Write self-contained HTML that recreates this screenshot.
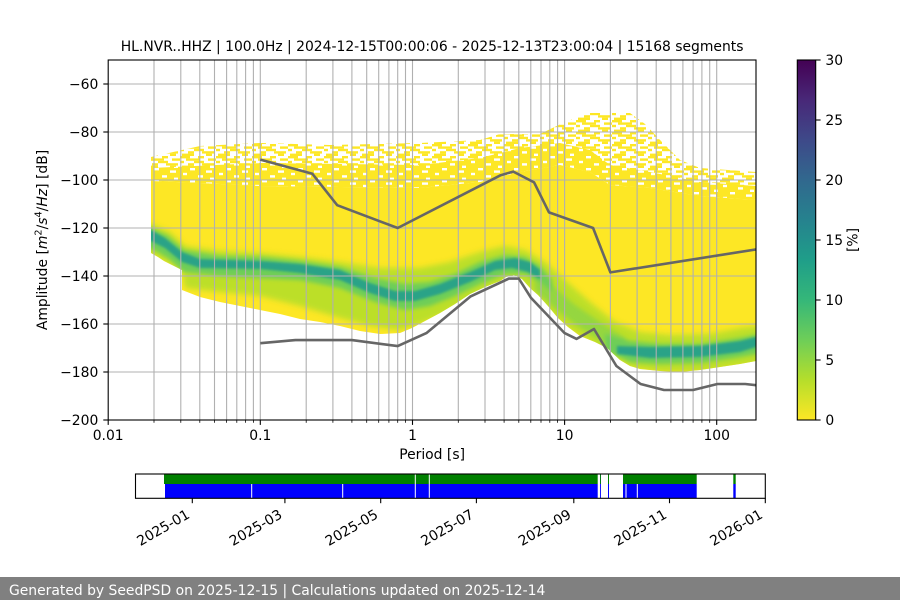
<!DOCTYPE html>
<html><head><meta charset="utf-8"><style>
html,body{margin:0;padding:0;background:#fff;}
svg{display:block;}
</style></head><body>
<svg width="900" height="600" viewBox="0 0 900 600" font-family="'DejaVu Sans','Liberation Sans',sans-serif" font-size="13.9">
<defs>
<clipPath id="ax"><rect x="108.2" y="60" width="647.8" height="360"/></clipPath>
<clipPath id="env"><polygon points="151,181 200,183 260,186 420,188 480,182 520,172 560,165 590,172 610,185 650,188 700,196 756,200 756,361 740,364 720,367 700,370 680,372 660,371 640,369 630,366 620,360 607,348 595,342 580,336 568,327 558,318 548,306 538,295 530,288 522,279 514,275 506,277 500,281 485,287 470,294 455,304 440,313 425,321 412,328 400,333 380,334 360,331 340,326 320,322 300,319 280,314 260,310 240,306 220,302 200,297 182,290 182,270 176,267 170,264 164,261 158,257 151,253"/></clipPath>
<pattern id="sp1" patternUnits="userSpaceOnUse" width="36" height="12">
<rect width="36" height="12" fill="#fde725"/>
<rect x="10" y="0" width="5" height="2.4" fill="#fff"/>
<rect x="26" y="2.4" width="6" height="2.4" fill="#fff"/>
<rect x="3" y="4.8" width="4" height="2.4" fill="#fff"/>
<rect x="18" y="7.2" width="5" height="2.4" fill="#fff"/>
<rect x="30" y="9.6" width="4" height="2.4" fill="#fff"/>
</pattern>
<pattern id="sp2" patternUnits="userSpaceOnUse" width="36" height="12">
<rect x="0" y="0" width="10" height="2.4" fill="#fde725"/>
<rect x="18" y="0" width="6" height="2.4" fill="#fde725"/>
<rect x="6" y="2.4" width="14" height="2.4" fill="#fde725"/>
<rect x="28" y="2.4" width="8" height="2.4" fill="#fde725"/>
<rect x="0" y="4.8" width="4" height="2.4" fill="#fde725"/>
<rect x="14" y="4.8" width="10" height="2.4" fill="#fde725"/>
<rect x="8" y="7.2" width="6" height="2.4" fill="#fde725"/>
<rect x="22" y="7.2" width="12" height="2.4" fill="#fde725"/>
<rect x="2" y="9.6" width="12" height="2.4" fill="#fde725"/>
<rect x="26" y="9.6" width="6" height="2.4" fill="#fde725"/>
</pattern>
<filter id="b1" x="-10%" y="-50%" width="120%" height="200%"><feGaussianBlur stdDeviation="1.2"/></filter>
<filter id="b2" x="-10%" y="-50%" width="120%" height="200%"><feGaussianBlur stdDeviation="2"/></filter>
<filter id="b3" x="-10%" y="-50%" width="120%" height="200%"><feGaussianBlur stdDeviation="3"/></filter>
<linearGradient id="cb" x1="0" y1="1" x2="0" y2="0">
<stop offset="0" stop-color="#fde725"/>
<stop offset="0.111" stop-color="#b5de2b"/>
<stop offset="0.222" stop-color="#6ece58"/>
<stop offset="0.333" stop-color="#35b779"/>
<stop offset="0.444" stop-color="#1f9e89"/>
<stop offset="0.556" stop-color="#26828e"/>
<stop offset="0.667" stop-color="#31688e"/>
<stop offset="0.778" stop-color="#3e4989"/>
<stop offset="0.889" stop-color="#482878"/>
<stop offset="1" stop-color="#440154"/>
</linearGradient>
</defs>

<rect width="900" height="600" fill="#fff"/>

<!-- Title -->
<text x="432.1" y="51" text-anchor="middle">HL.NVR..HHZ | 100.0Hz | 2024-12-15T00:00:06 - 2025-12-13T23:00:04 | 15168 segments</text>

<g clip-path="url(#ax)">
  <!-- speckled upper region -->
  <polygon fill="url(#sp2)" points="151,157 200,146 260,143 330,145 420,143 480,140 500,134 540,134 565,122 590,113 630,113 645,124 660,140 680,160 700,168 756,172 756,200 700,196 650,188 610,185 590,172 560,165 520,172 480,182 420,188 260,186 200,183 151,181"/>
  <polygon fill="url(#sp1)" points="151,168 260,163 420,165 480,158 520,148 560,143 590,150 610,165 650,172 700,182 756,186 756,200 700,196 650,188 610,185 590,172 560,165 520,172 480,182 420,188 260,186 200,183 151,181"/>
  <!-- solid yellow -->
  <polygon fill="#fde725" points="151,181 200,183 260,186 420,188 480,182 520,172 560,165 590,172 610,185 650,188 700,196 756,200 756,361 740,364 720,367 700,370 680,372 660,371 640,369 630,366 620,360 607,348 595,342 580,336 568,327 558,318 548,306 538,295 530,288 522,279 514,275 506,277 500,281 485,287 470,294 455,304 440,313 425,321 412,328 400,333 380,334 360,331 340,326 320,322 300,319 280,314 260,310 240,306 220,302 200,297 182,290 182,270 176,267 170,264 164,261 158,257 151,253"/>
  <g clip-path="url(#env)">
    <!-- halo -->
    <polygon filter="url(#b3)" fill="#b5de2b" opacity="0.9" points="151,224 170,232 185,246 220,251 260,253 300,257 340,262 380,268 420,268 450,262 480,252 505,246 525,250 545,262 565,280 590,302 615,322 640,332 670,335 710,334 740,328 756,326 760,326 760,364 756,364 740,366 700,372 660,372 630,368 610,356 590,342 570,330 555,318 540,302 525,286 510,280 490,288 470,300 440,316 420,324 400,330 370,326 340,318 300,306 260,296 220,292 185,288 182,272 170,264 151,254 146,254 146,224"/>
    <!-- mid -->
    <polygon filter="url(#b2)" fill="#6ece58" points="146,228 151,228 168,236 184,250 220,256 260,257 300,261 340,267 375,278 405,284 430,282 455,274 480,262 505,255 525,257 540,266 552,280 552,292 540,282 525,274 505,274 480,284 455,296 430,306 405,310 375,302 340,288 300,280 260,278 220,276 184,272 168,258 151,248 146,248"/>
    <polygon filter="url(#b2)" fill="#6ece58" opacity="0.5" points="535,272 555,288 575,305 600,322 625,338 625,356 600,340 575,324 555,308 535,290"/>
    <polygon filter="url(#b2)" fill="#6ece58" points="605,334 630,341 660,344 700,344 740,338 756,335 760,335 760,354 756,354 740,357 700,363 660,364 630,362 605,350"/>
    <!-- core -->
    <polygon filter="url(#b1)" fill="#29a387" points="146,230 151,230 165,238 182,252 200,259 260,261 300,264 340,270 370,283 395,291 415,291 440,284 470,272 495,261 515,258 530,262 540,270 540,279 528,272 512,268 495,270 470,282 440,294 415,301 395,301 370,293 340,280 300,273 260,269 200,268 182,262 165,248 151,241 146,241"/>
    <polygon filter="url(#b1)" fill="#29a387" points="617,346 650,347 700,346 740,341 756,337 760,337 760,347 756,347 740,352 700,357 650,358 617,354"/>
  </g>
  <!-- grid -->
  <g stroke="#b0b0b0" stroke-width="1.1">
    <line x1="154.0" y1="60" x2="154.0" y2="420"/>
    <line x1="180.8" y1="60" x2="180.8" y2="420"/>
    <line x1="199.8" y1="60" x2="199.8" y2="420"/>
    <line x1="214.5" y1="60" x2="214.5" y2="420"/>
    <line x1="226.6" y1="60" x2="226.6" y2="420"/>
    <line x1="236.8" y1="60" x2="236.8" y2="420"/>
    <line x1="245.6" y1="60" x2="245.6" y2="420"/>
    <line x1="253.4" y1="60" x2="253.4" y2="420"/>
    <line x1="260.3" y1="60" x2="260.3" y2="420"/>
    <line x1="306.2" y1="60" x2="306.2" y2="420"/>
    <line x1="332.9" y1="60" x2="332.9" y2="420"/>
    <line x1="351.9" y1="60" x2="351.9" y2="420"/>
    <line x1="366.7" y1="60" x2="366.7" y2="420"/>
    <line x1="378.7" y1="60" x2="378.7" y2="420"/>
    <line x1="388.9" y1="60" x2="388.9" y2="420"/>
    <line x1="397.7" y1="60" x2="397.7" y2="420"/>
    <line x1="405.5" y1="60" x2="405.5" y2="420"/>
    <line x1="412.5" y1="60" x2="412.5" y2="420"/>
    <line x1="458.3" y1="60" x2="458.3" y2="420"/>
    <line x1="485.0" y1="60" x2="485.0" y2="420"/>
    <line x1="504.1" y1="60" x2="504.1" y2="420"/>
    <line x1="518.8" y1="60" x2="518.8" y2="420"/>
    <line x1="530.8" y1="60" x2="530.8" y2="420"/>
    <line x1="541.0" y1="60" x2="541.0" y2="420"/>
    <line x1="549.8" y1="60" x2="549.8" y2="420"/>
    <line x1="557.6" y1="60" x2="557.6" y2="420"/>
    <line x1="564.6" y1="60" x2="564.6" y2="420"/>
    <line x1="610.4" y1="60" x2="610.4" y2="420"/>
    <line x1="637.1" y1="60" x2="637.1" y2="420"/>
    <line x1="656.2" y1="60" x2="656.2" y2="420"/>
    <line x1="670.9" y1="60" x2="670.9" y2="420"/>
    <line x1="682.9" y1="60" x2="682.9" y2="420"/>
    <line x1="693.1" y1="60" x2="693.1" y2="420"/>
    <line x1="701.9" y1="60" x2="701.9" y2="420"/>
    <line x1="709.7" y1="60" x2="709.7" y2="420"/>
    <line x1="716.7" y1="60" x2="716.7" y2="420"/>
    <line x1="108" y1="84" x2="756" y2="84"/>
    <line x1="108" y1="132" x2="756" y2="132"/>
    <line x1="108" y1="180" x2="756" y2="180"/>
    <line x1="108" y1="228" x2="756" y2="228"/>
    <line x1="108" y1="276" x2="756" y2="276"/>
    <line x1="108" y1="324" x2="756" y2="324"/>
    <line x1="108" y1="372" x2="756" y2="372"/>
  </g>
  <!-- noise models -->
  <polyline fill="none" stroke="#666" stroke-width="2.6" stroke-linejoin="round" stroke-linecap="butt" points="260.3,159.6 312.4,173.8 337.2,205.2 397.7,228 500.7,175.2 513.3,171.6 534.1,182.4 549.0,212.4 593.1,228 610.4,272.4 760,248.8"/>
  <polyline fill="none" stroke="#666" stroke-width="2.6" stroke-linejoin="round" stroke-linecap="butt" points="260.3,343.2 295.4,340.1 351.9,340.1 397.7,346.1 426.7,332.9 470.3,296.6 508.8,278.6 518.8,278.6 530.8,297.6 564.6,333.1 576.6,338.9 594.0,329.0 616.4,366 640.6,384 664.0,390 693.1,390 717.4,384 745.2,384 760,385.6"/>
</g>

<!-- axes frame -->
<rect x="108.2" y="60" width="647.8" height="360" fill="none" stroke="#000" stroke-width="1.1"/>

<!-- y ticks -->
<g stroke="#000" stroke-width="1.1">
  <line x1="103.3" y1="84" x2="108.2" y2="84"/>
  <line x1="103.3" y1="132" x2="108.2" y2="132"/>
  <line x1="103.3" y1="180" x2="108.2" y2="180"/>
  <line x1="103.3" y1="228" x2="108.2" y2="228"/>
  <line x1="103.3" y1="276" x2="108.2" y2="276"/>
  <line x1="103.3" y1="324" x2="108.2" y2="324"/>
  <line x1="103.3" y1="372" x2="108.2" y2="372"/>
  <line x1="103.3" y1="420" x2="108.2" y2="420"/>
  <!-- x major -->
  <line x1="108.2" y1="420" x2="108.2" y2="424.9"/>
  <line x1="260.3" y1="420" x2="260.3" y2="424.9"/>
  <line x1="412.5" y1="420" x2="412.5" y2="424.9"/>
  <line x1="564.6" y1="420" x2="564.6" y2="424.9"/>
  <line x1="716.7" y1="420" x2="716.7" y2="424.9"/>
</g>
<g stroke="#000" stroke-width="0.8">
  <line x1="154.0" y1="420" x2="154.0" y2="422.8"/>
  <line x1="180.8" y1="420" x2="180.8" y2="422.8"/>
  <line x1="199.8" y1="420" x2="199.8" y2="422.8"/>
  <line x1="214.5" y1="420" x2="214.5" y2="422.8"/>
  <line x1="226.6" y1="420" x2="226.6" y2="422.8"/>
  <line x1="236.8" y1="420" x2="236.8" y2="422.8"/>
  <line x1="245.6" y1="420" x2="245.6" y2="422.8"/>
  <line x1="253.4" y1="420" x2="253.4" y2="422.8"/>
  <line x1="306.2" y1="420" x2="306.2" y2="422.8"/>
  <line x1="332.9" y1="420" x2="332.9" y2="422.8"/>
  <line x1="351.9" y1="420" x2="351.9" y2="422.8"/>
  <line x1="366.7" y1="420" x2="366.7" y2="422.8"/>
  <line x1="378.7" y1="420" x2="378.7" y2="422.8"/>
  <line x1="388.9" y1="420" x2="388.9" y2="422.8"/>
  <line x1="397.7" y1="420" x2="397.7" y2="422.8"/>
  <line x1="405.5" y1="420" x2="405.5" y2="422.8"/>
  <line x1="458.3" y1="420" x2="458.3" y2="422.8"/>
  <line x1="485.0" y1="420" x2="485.0" y2="422.8"/>
  <line x1="504.1" y1="420" x2="504.1" y2="422.8"/>
  <line x1="518.8" y1="420" x2="518.8" y2="422.8"/>
  <line x1="530.8" y1="420" x2="530.8" y2="422.8"/>
  <line x1="541.0" y1="420" x2="541.0" y2="422.8"/>
  <line x1="549.8" y1="420" x2="549.8" y2="422.8"/>
  <line x1="557.6" y1="420" x2="557.6" y2="422.8"/>
  <line x1="610.4" y1="420" x2="610.4" y2="422.8"/>
  <line x1="637.1" y1="420" x2="637.1" y2="422.8"/>
  <line x1="656.2" y1="420" x2="656.2" y2="422.8"/>
  <line x1="670.9" y1="420" x2="670.9" y2="422.8"/>
  <line x1="682.9" y1="420" x2="682.9" y2="422.8"/>
  <line x1="693.1" y1="420" x2="693.1" y2="422.8"/>
  <line x1="701.9" y1="420" x2="701.9" y2="422.8"/>
  <line x1="709.7" y1="420" x2="709.7" y2="422.8"/>
</g>

<!-- y tick labels -->
<g text-anchor="end" fill="#000">
  <text x="98.3" y="89">−60</text>
  <text x="98.3" y="137">−80</text>
  <text x="98.3" y="185">−100</text>
  <text x="98.3" y="233">−120</text>
  <text x="98.3" y="281">−140</text>
  <text x="98.3" y="329">−160</text>
  <text x="98.3" y="377">−180</text>
  <text x="98.3" y="425">−200</text>
</g>
<!-- x tick labels -->
<g text-anchor="middle" fill="#000">
  <text x="108.2" y="440">0.01</text>
  <text x="260.3" y="440">0.1</text>
  <text x="412.5" y="440">1</text>
  <text x="564.6" y="440">10</text>
  <text x="716.7" y="440">100</text>
  <text x="432.1" y="459">Period [s]</text>
</g>
<!-- y label -->
<text transform="translate(47,240) rotate(-90)" text-anchor="middle">Amplitude [<tspan font-style="italic">m</tspan><tspan font-size="9.7" dy="-5.5">2</tspan><tspan dy="5.5">/</tspan><tspan font-style="italic">s</tspan><tspan font-size="9.7" dy="-5.5">4</tspan><tspan dy="5.5">/</tspan><tspan font-style="italic">Hz</tspan>] [dB]</text>

<!-- colorbar -->
<rect x="797.3" y="60" width="18.4" height="360" fill="url(#cb)" stroke="#000" stroke-width="1.1"/>
<g stroke="#000" stroke-width="1.1">
  <line x1="815.7" y1="60" x2="820.6" y2="60"/>
  <line x1="815.7" y1="120" x2="820.6" y2="120"/>
  <line x1="815.7" y1="180" x2="820.6" y2="180"/>
  <line x1="815.7" y1="240" x2="820.6" y2="240"/>
  <line x1="815.7" y1="300" x2="820.6" y2="300"/>
  <line x1="815.7" y1="360" x2="820.6" y2="360"/>
  <line x1="815.7" y1="420" x2="820.6" y2="420"/>
</g>
<g fill="#000">
  <text x="825.4" y="65">30</text>
  <text x="825.4" y="125">25</text>
  <text x="825.4" y="185">20</text>
  <text x="825.4" y="245">15</text>
  <text x="825.4" y="305">10</text>
  <text x="825.4" y="365">5</text>
  <text x="825.4" y="425">0</text>
</g>
<text transform="translate(857.5,240) rotate(-90)" text-anchor="middle">[%]</text>

<!-- time availability bar -->
<g>
  <rect x="164" y="474" width="433.7" height="10" fill="#008000"/>
  <rect x="165" y="484" width="432.7" height="14.3" fill="#0000ff"/>
  <rect x="600" y="474" width="0.9" height="24.3" fill="#0000ff"/>
  <rect x="600" y="474" width="0.9" height="10" fill="#008000"/>
  <rect x="608" y="474" width="1" height="10" fill="#008000"/>
  <rect x="608" y="484" width="1" height="14.3" fill="#0000ff"/>
  <rect x="623" y="474" width="73.7" height="10" fill="#008000"/>
  <rect x="623" y="484" width="73.7" height="14.3" fill="#0000ff"/>
  <rect x="733.3" y="474" width="2.4" height="10" fill="#008000"/>
  <rect x="733.3" y="484" width="2.4" height="14.3" fill="#0000ff"/>
  <g stroke="#fff" stroke-width="1">
    <line x1="251.7" y1="484" x2="251.7" y2="498.3"/>
    <line x1="342.7" y1="484" x2="342.7" y2="498.3"/>
    <line x1="415.3" y1="474" x2="415.3" y2="498.3"/>
    <line x1="429.3" y1="474" x2="429.3" y2="498.3"/>
    <line x1="626" y1="484" x2="626" y2="498.3"/>
    <line x1="637.3" y1="484" x2="637.3" y2="498.3"/>
  </g>
  <rect x="135.5" y="474" width="629.8" height="24.3" fill="none" stroke="#000" stroke-width="1.1"/>
  <g stroke="#000" stroke-width="1.1">
    <line x1="192.3" y1="498.3" x2="192.3" y2="503.2"/>
    <line x1="284.9" y1="498.3" x2="284.9" y2="503.2"/>
    <line x1="380.7" y1="498.3" x2="380.7" y2="503.2"/>
    <line x1="476.4" y1="498.3" x2="476.4" y2="503.2"/>
    <line x1="573.8" y1="498.3" x2="573.8" y2="503.2"/>
    <line x1="669.5" y1="498.3" x2="669.5" y2="503.2"/>
    <line x1="765.3" y1="498.3" x2="765.3" y2="503.2"/>
  </g>
  <g text-anchor="end" fill="#000">
    <text transform="translate(190.6,517.2) rotate(-30)">2025-01</text>
    <text transform="translate(283.2,517.2) rotate(-30)">2025-03</text>
    <text transform="translate(379.0,517.2) rotate(-30)">2025-05</text>
    <text transform="translate(474.7,517.2) rotate(-30)">2025-07</text>
    <text transform="translate(572.1,517.2) rotate(-30)">2025-09</text>
    <text transform="translate(667.8,517.2) rotate(-30)">2025-11</text>
    <text transform="translate(763.6,517.2) rotate(-30)">2026-01</text>
  </g>
</g>

<!-- footer -->
<rect x="0" y="577" width="900" height="23" fill="#808080"/>
<text x="9" y="595" fill="#fff">Generated by SeedPSD on 2025-12-15 | Calculations updated on 2025-12-14</text>
</svg>
</body></html>
